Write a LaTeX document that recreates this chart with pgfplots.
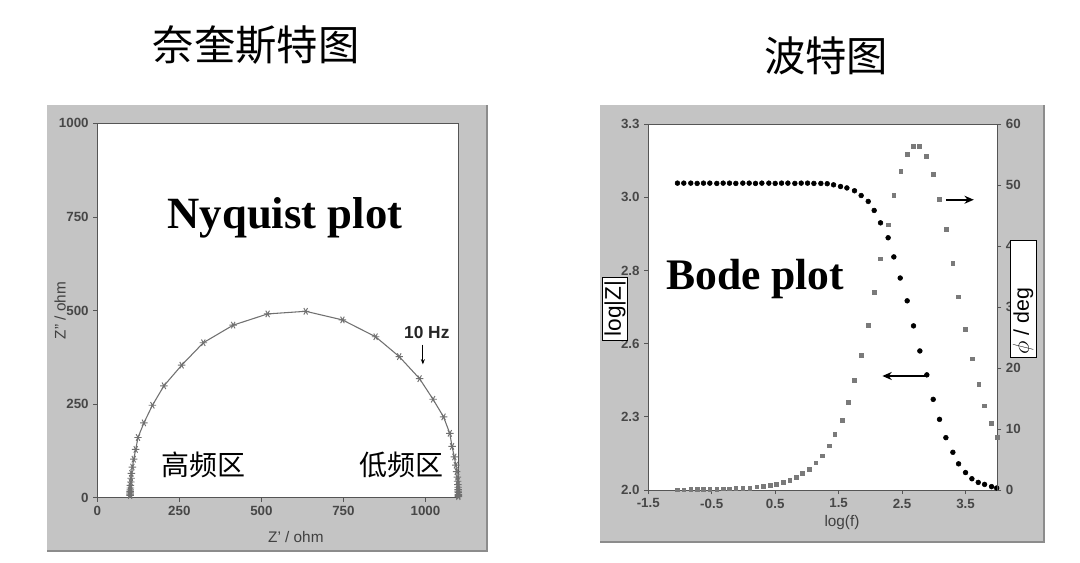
\documentclass[border=0pt]{standalone}
\usepackage{fontspec}
\setmainfont{Liberation Sans}
\newfontfamily\cjk{Noto Sans CJK SC}
\newfontfamily\tnr{Liberation Serif}
\usepackage{pgfplots}
\pgfplotsset{compat=1.18}
\usetikzlibrary{arrows.meta}

\definecolor{panel}{HTML}{C4C4C4}
\definecolor{edge}{HTML}{8C8C8C}
\definecolor{frame}{HTML}{555555}
\definecolor{nyq}{HTML}{707070}
\definecolor{phase}{HTML}{7A7A7A}

% Nyquist points: Z' , Z'' (ohm), low to high frequency
\pgfplotstableread{
zr zi
1100 3
1099.9 6
1099.9 9
1099.8 14
1099.7 17.5
1099.5 22
1099.2 28
1098.8 35
1098.1 44
1096.9 55
1095.1 70
1092.3 87
1088 109
1080.9 137
1074 172
1055 216
1023 263
982 318
920 377
848 430
747 475
635 498
519 491
414 461
323 414
257 354
203 299
168 247
142 200
124 161
117 129
111 103
107 82
104 65
103 52
102 42
101 33
100.7 26
100.4 21
100.3 17
100.2 13
100.1 10
100.1 8
100 6
}\nyquist

% Bode: log f , log|Z|
\pgfplotstableread{
lf lz
-1.04 3.090
-0.94 3.090
-0.83 3.090
-0.73 3.089
-0.63 3.090
-0.53 3.090
-0.42 3.089
-0.32 3.090
-0.22 3.090
-0.12 3.089
-0.01 3.090
0.09 3.090
0.19 3.089
0.29 3.090
0.40 3.090
0.50 3.089
0.60 3.090
0.70 3.090
0.81 3.089
0.91 3.090
1.01 3.090
1.11 3.089
1.22 3.089
1.32 3.088
1.42 3.084
1.53 3.078
1.63 3.073
1.75 3.063
1.855 3.046
1.966 3.025
2.06 2.993
2.16 2.949
2.28 2.896
2.37 2.828
2.47 2.753
2.58 2.672
2.68 2.583
2.78 2.494
2.89 2.409
2.99 2.322
3.09 2.251
3.19 2.186
3.30 2.134
3.39 2.093
3.50 2.062
3.60 2.040
3.70 2.027
3.80 2.020
3.91 2.012
3.99 2.007
}\bodemag

% Bode: log f , phase (deg)
\pgfplotstableread{
lf ph
-1.04 0.05
-0.94 0.05
-0.83 0.1
-0.73 0.1
-0.63 0.1
-0.53 0.15
-0.42 0.15
-0.32 0.2
-0.22 0.2
-0.12 0.25
-0.01 0.3
0.10 0.33
0.21 0.54
0.31 0.61
0.42 0.77
0.52 0.98
0.63 1.26
0.73 1.64
0.83 2.13
0.93 2.74
1.04 3.45
1.14 4.48
1.24 5.63
1.35 7.27
1.44 9.14
1.56 11.48
1.65 14.39
1.75 18.0
1.86 22.1
1.97 27.0
2.06 32.4
2.16 37.9
2.28 43.5
2.37 48.3
2.48 52.2
2.58 55.0
2.68 56.4
2.77 56.4
2.88 54.7
2.99 51.8
3.09 47.7
3.20 42.8
3.30 37.2
3.39 31.7
3.50 26.4
3.60 21.5
3.71 17.3
3.80 13.8
3.91 10.9
4.00 8.6
}\bodephase

\pgfplotsset{
  panelaxis/.style={
    scale only axis,
    anchor=south west,
    axis background/.style={fill=white},
    axis line style={frame, line width=0.7pt},
    tick align=outside,
    tick style={frame, line width=0.5pt},
    major tick length=3pt,
    ticklabel style={font=\bfseries\fontsize{10}{10}\selectfont, text=black!72},
    /pgf/number format/assume math mode=true,
    scaled ticks=false,
    /pgf/number format/1000 sep={},
    label style={font=\fontsize{11.5}{11.5}\selectfont, text=black!75},
  }
}

\begin{document}
\begin{tikzpicture}
\begin{scope}[x=0.75pt,y=-0.75pt]
  \fill[white] (0,0) rectangle (1080,562);
  % grey panels
  \fill[panel] (47,105) rectangle (488,552);
  \draw[edge,line width=1.5pt] (47,551) -- (487,551) -- (487,105);
  \fill[panel] (600,105) rectangle (1045,543);
  \draw[edge,line width=1.5pt] (600,542) -- (1044,542) -- (1044,105);
  % titles
  \node[font=\cjk\fontsize{31}{31}\selectfont] at (256,45) {奈奎斯特图};
  \node[font=\cjk\fontsize{31}{31}\selectfont] at (826,56) {波特图};
\end{scope}

% ---- Nyquist ----
\begin{axis}[panelaxis,
  at={(72.98pt,-373.3pt)},
  width=270.75pt, height=280.8pt,
  xmin=0, xmax=1100, ymin=0, ymax=1000,
  xtick={0,250,500,750,1000}, ytick={0,250,500,750,1000},
  xtick pos=left, ytick pos=left,
  xlabel={Z' / ohm}, ylabel={Z'' / ohm},
  xlabel style={at={(axis description cs:0.55,-0.105)}, anchor=center},
  ylabel style={at={(axis description cs:-0.103,0.5)}, anchor=center},
  clip=false,
]
\addplot[nyq, line width=0.8pt, mark=asterisk, mark size=2.8pt,
  mark options={rotate=90, line width=0.7pt}] table[x=zr, y=zi] {\nyquist};
\node[font=\tnr\bfseries\fontsize{33.5}{33.5}\selectfont, anchor=base]
  at (axis cs:572,720) {Nyquist plot};
\node[font=\cjk\fontsize{21}{21}\selectfont] at (axis cs:325,87) {高频区};
\node[font=\cjk\fontsize{21}{21}\selectfont] at (axis cs:928,87) {低频区};
\node[font=\bfseries\fontsize{13}{13}\selectfont, text=black!85] at (axis cs:1004,442) {10 Hz};
\draw[-{Stealth[length=4pt,width=3pt]}, line width=0.8pt] (axis cs:992,409) -- (axis cs:992,356);
\end{axis}

% ---- Bode: |Z| ----
\begin{axis}[panelaxis,
  at={(486.2pt,-367.5pt)},
  width=261.75pt, height=274.5pt,
  xmin=-1.5, xmax=4, ymin=2.0, ymax=3.3,
  xtick pos=left, ytick pos=left,
  xtick={-1.5,-0.5,0.5,1.5,2.5,3.5},
  xticklabels={-1.5,-0.5,0.5,1.5,2.5,3.5},
  ytick={2.0,2.26,2.52,2.78,3.04,3.3},
  yticklabels={2.0,2.3,2.6,2.8,3.0,3.3},
  xlabel={log(f)},
  xlabel style={at={(axis description cs:0.555,-0.09)}, anchor=center},
  clip=false,
]
\addplot[only marks, mark=*, mark size=1.8pt, black] table[x=lf, y=lz] {\bodemag};
\node[font=\tnr\bfseries\fontsize{32.7}{32.7}\selectfont, anchor=base]
  at (axis cs:0.186,2.711) {Bode plot};
\draw[-{Stealth[length=7pt,width=6pt]}, line width=1.6pt] (axis cs:3.19,3.031) -- (axis cs:3.63,3.031);
\draw[-{Stealth[length=7pt,width=6pt]}, line width=1.6pt] (axis cs:2.90,2.405) -- (axis cs:2.19,2.405);
\end{axis}

% ---- Bode: phase ----
\begin{axis}[panelaxis,
  at={(486.2pt,-367.5pt)},
  width=261.75pt, height=274.5pt,
  xmin=-1.5, xmax=4, ymin=0, ymax=60,
  axis x line=none, axis y line*=right,
  ytick={0,10,20,30,40,50,60},
  axis background/.style={},
]
\addplot[only marks, mark=square*, mark size=1.4pt, phase] table[x=lf, y=ph] {\bodephase};
\end{axis}

\begin{scope}[x=0.75pt,y=-0.75pt]
  % boxed axis titles of the Bode plot
  \draw[black, line width=0.6pt, fill=white] (602,277) rectangle (627,340);
  \node[rotate=90, font=\fontsize{17}{17}\selectfont] at (615,308.5) {log|Z|};
  \draw[black, line width=0.6pt, fill=white] (1010,240) rectangle (1036,357);
  \node[rotate=90, font=\fontsize{16}{16}\selectfont] at (1023,321) {$\phi$ / deg};
\end{scope}
\end{tikzpicture}
\end{document}
